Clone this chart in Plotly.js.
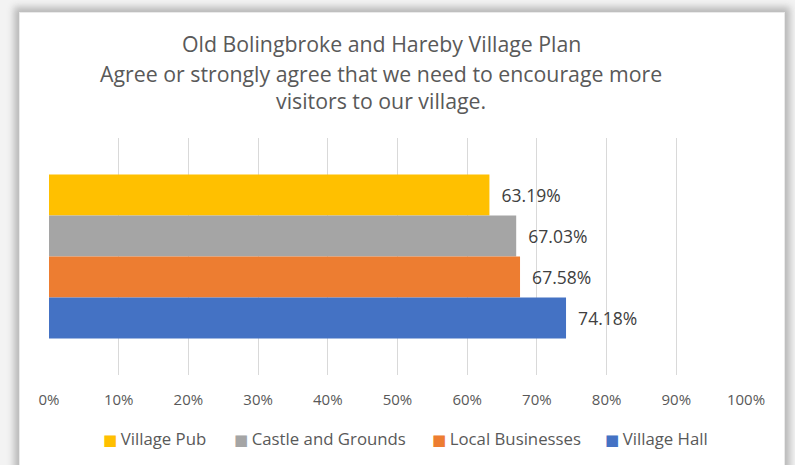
<!DOCTYPE html>
<html>
<head>
<meta charset="utf-8">
<script src="https://cdn.plot.ly/plotly-3.0.1.min.js"></script>
<style>
  html, body { margin:0; padding:0; width:795px; height:465px; overflow:hidden; background:#f3f3f3; }
  #frame { position:absolute; left:20px; top:13px; width:764px; height:470px; background:#ffffff;
           box-shadow: 0 0 0 1px #eaeaea, 0 0 7px 6px #b9b9b9; }
  #chart { position:absolute; left:0; top:0; width:795px; height:465px; }
</style>
</head>
<body>
<div id="frame"></div>
<div id="chart"></div>
<script>
const category = ["Encourage more visitors"];
const seriesNames = ["Village Pub", "Castle and Grounds", "Local Businesses", "Village Hall"];
const seriesValues = [63.19, 67.03, 67.58, 74.18];
const seriesColors = ["#FFC000", "#A5A5A5", "#ED7D31", "#4472C4"];
const xTickValues = [0, 10, 20, 30, 40, 50, 60, 70, 80, 90, 100];
const xTickLabels = ["0%", "10%", "20%", "30%", "40%", "50%", "60%", "70%", "80%", "90%", "100%"];
const titleLines = [
  "Old Bolingbroke and Hareby Village Plan",
  "Agree or strongly agree that we need to encourage more",
  "visitors to our village."
];

const FONT = "Open Sans, sans-serif";
const PLOT = { l: 49, r: 746, t: 138, b: 375 };
const W = PLOT.r - PLOT.l, H = PLOT.b - PLOT.t;
const px2x = p => (p - PLOT.l) / W;
const px2y = p => (PLOT.b - p) / H;

const traces = seriesNames.map((name, i) => ({
  type: "bar",
  orientation: "h",
  name: name,
  y: category,
  x: [seriesValues[i]],
  marker: { color: seriesColors[i] },
  texttemplate: "\u00a0\u00a0%{x:.2f}%",
  textposition: "outside",
  cliponaxis: false,
  textfont: { family: FONT, size: 17.5, color: "#404040" },
  hoverinfo: "none",
  showlegend: false
}));

const titleCenters = [43, 73, 101];
const annotations = titleLines.map((t, i) => ({
  text: t,
  xref: "paper", yref: "paper",
  x: px2x(381), y: px2y(titleCenters[i]),
  xanchor: "center", yanchor: "middle",
  showarrow: false,
  font: { family: FONT, size: 21.3, color: "#595959" }
}));

// legend entries drawn as text items (square key + series name)
const legendLeft = [101, 232, 430, 603];
seriesNames.forEach((name, i) => {
  annotations.push({
    text: '<span style="color:' + seriesColors[i] + ';font-size:15px;font-family:DejaVu Sans">\u25A0</span>' +
          '<span style="font-size:11px;font-family:DejaVu Sans">\u00a0</span>' + name,
    xref: "paper", yref: "paper",
    x: px2x(legendLeft[i]), y: px2y(438),
    xanchor: "left", yanchor: "middle",
    showarrow: false,
    font: { family: FONT, size: 16.8, color: "#595959" }
  });
});

const layout = {
  width: 795, height: 465,
  margin: { l: PLOT.l, r: 795 - PLOT.r, t: PLOT.t, b: 465 - PLOT.b, pad: 0 },
  paper_bgcolor: "rgba(0,0,0,0)",
  plot_bgcolor: "rgba(0,0,0,0)",
  barmode: "group",
  bargap: 0.308,
  bargroupgap: 0,
  showlegend: false,
  xaxis: {
    range: [0, 100],
    tickmode: "array",
    tickvals: xTickValues,
    ticktext: xTickLabels,
    showgrid: true,
    gridcolor: "#d9d9d9",
    gridwidth: 1,
    zeroline: false,
    showline: false,
    ticks: "",
    ticklabelstandoff: 14,
    tickfont: { family: FONT, size: 15, color: "#595959" },
    fixedrange: true
  },
  yaxis: {
    autorange: "reversed",
    showticklabels: false,
    showgrid: false,
    zeroline: false,
    showline: false,
    ticks: "",
    fixedrange: true
  },
  annotations: annotations
};

Plotly.newPlot("chart", traces, layout, { displayModeBar: false, staticPlot: true });
</script>
</body>
</html>
